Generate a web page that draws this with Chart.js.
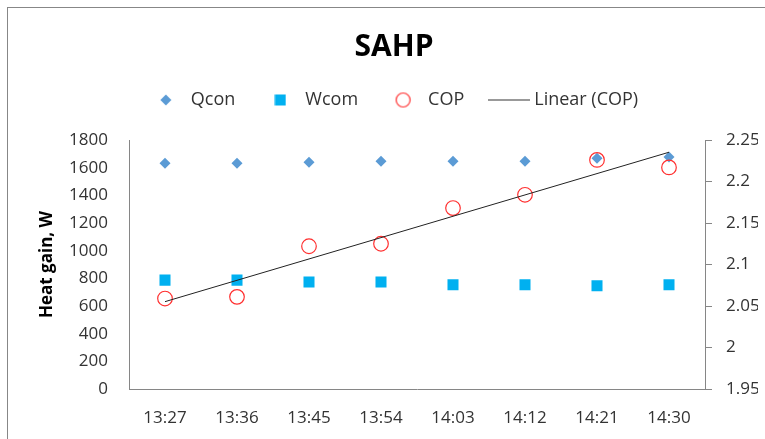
<!DOCTYPE html>
<html>
<head>
<meta charset="utf-8">
<title>SAHP</title>
<script src="https://cdn.jsdelivr.net/npm/chart.js@4.4.1/dist/chart.umd.min.js"></script>
<style>
  html, body { margin: 0; padding: 0; background: #fff; overflow: hidden; }
  #wrap { position: relative; width: 765px; height: 439px; }
  #frame { position: absolute; left: 7px; top: 7px; width: 800px; height: 500px; border: 1px solid #878787; pointer-events: none; }
</style>
</head>
<body>
<div id="wrap">
  <canvas id="chartSahp" width="765" height="439"></canvas>
  <div id="frame"></div>
</div>
<script>
// DATA
var times = ['13:27', '13:36', '13:45', '13:54', '14:03', '14:12', '14:21', '14:30'];
var qcon = [1632, 1632, 1639, 1647, 1647, 1647, 1668, 1678];
var wcom = [787, 787, 773, 773, 754, 754, 747, 754];
var cop = [2.059, 2.061, 2.122, 2.125, 2.168, 2.184, 2.226, 2.217];
var heatTicks = [0, 200, 400, 600, 800, 1000, 1200, 1400, 1600, 1800];
var copTicks = [1.95, 2, 2.05, 2.1, 2.15, 2.2, 2.25];

var FONT = "'Open Sans', 'Liberation Sans', sans-serif";
var AXIS_GRAY = '#868686';

// LINEAR TRENDLINE (least squares on point number, same as excel)
function linearFit(values) {
  var n = values.length, sx = 0, sy = 0, sxy = 0, sxx = 0;
  for (var i = 0; i < n; i++) {
    var x = i + 1;
    sx += x; sy += values[i]; sxy += x * values[i]; sxx += x * x;
  }
  var slope = (n * sxy - sx * sy) / (n * sxx - sx * sx);
  var icpt = (sy - slope * sx) / n;
  return values.map(function (v, i) { return icpt + slope * (i + 1); });
}
var copTrend = linearFit(cop);

// LEGEND MARKERS
function makeMarker(w, h, draw) {
  var c = document.createElement('canvas');
  c.width = w; c.height = h;
  draw(c.getContext('2d'));
  return c;
}
var diamondImg = makeMarker(12, 12, function (ctx) {
  ctx.fillStyle = '#5B9BD5';
  ctx.beginPath();
  ctx.moveTo(6, 0.5); ctx.lineTo(11.5, 6); ctx.lineTo(6, 11.5); ctx.lineTo(0.5, 6);
  ctx.closePath(); ctx.fill();
});
var squareImg = makeMarker(12, 12, function (ctx) {
  ctx.fillStyle = '#00B0F0';
  ctx.fillRect(0.5, 0.5, 11, 11);
});
var circleImg = makeMarker(17, 17, function (ctx) {
  ctx.strokeStyle = '#FF3030';
  ctx.lineWidth = 1.2;
  ctx.beginPath(); ctx.arc(8.5, 8.5, 7, 0, Math.PI * 2); ctx.stroke();
});
var lineImg = makeMarker(42, 3, function (ctx) {
  ctx.fillStyle = '#333';
  ctx.fillRect(0, 1, 42, 1);
});
var legendImgs = [diamondImg, squareImg, circleImg, lineImg];

// CHART
var sahpData = {
  labels: times,
  datasets: [
    {
      label: 'Qcon',
      data: qcon,
      yAxisID: 'y',
      showLine: false,
      pointStyle: 'rectRot',
      pointRadius: 5.5,
      backgroundColor: '#5B9BD5',
      borderColor: '#5B9BD5',
      borderWidth: 0,
      order: 4,
    },
    {
      label: 'Wcom',
      data: wcom,
      yAxisID: 'y',
      showLine: false,
      pointStyle: 'rect',
      pointRadius: 7.8,
      backgroundColor: '#00B0F0',
      borderColor: '#00B0F0',
      borderWidth: 0,
      order: 3,
    },
    {
      label: 'COP',
      data: cop,
      yAxisID: 'y1',
      showLine: false,
      pointStyle: 'circle',
      pointRadius: 7.3,
      backgroundColor: 'rgba(0,0,0,0)',
      borderColor: '#FF3030',
      borderWidth: 1.2,
      order: 2,
    },
    {
      label: 'Linear (COP)',
      data: copTrend,
      yAxisID: 'y1',
      pointRadius: 0,
      borderColor: '#222',
      borderWidth: 1,
      order: 1,
    },
  ],
};

var configSahp = {
  type: 'line',
  data: sahpData,
  options: {
    responsive: false,
    animation: false,
    devicePixelRatio: 1,
    layout: { padding: { top: 0, left: 30, right: 7, bottom: 0 } },
    plugins: {
      tooltip: { enabled: false },
      title: {
        display: true,
        text: 'SAHP',
        color: '#000',
        font: { family: FONT, size: 30, weight: 'bold', lineHeight: 1 },
        padding: { top: 32, bottom: 0 },
      },
      // empty spacer between legend and plot area
      subtitle: {
        display: true,
        text: '',
        weight: 100,
        font: { size: 10, lineHeight: '21px' },
        padding: 0,
      },
      legend: {
        position: 'top',
        labels: {
          usePointStyle: true,
          pointStyleWidth: 32,
          padding: 29,
          color: '#333',
          font: { family: FONT, size: 18 },
          generateLabels: function (chart) {
            return chart.data.datasets.map(function (ds, i) {
              return {
                text: ds.label,
                pointStyle: legendImgs[i],
                fillStyle: 'rgba(0,0,0,0)',
                strokeStyle: 'rgba(0,0,0,0)',
                lineWidth: 0,
                fontColor: '#333',
                hidden: false,
                datasetIndex: i,
              };
            });
          },
        },
      },
    },
    scales: {
      x: {
        type: 'category',
        offset: true,
        grid: { display: false, drawTicks: false },
        border: { display: true, color: AXIS_GRAY },
        ticks: { color: '#333', font: { family: FONT, size: 17 }, padding: 19, maxRotation: 0, autoSkip: false },
        afterFit: function (s) { s.height = 50; },
      },
      y: {
        position: 'left',
        min: 0,
        max: 1800,
        grid: { display: false, drawTicks: false },
        border: { display: true, color: AXIS_GRAY },
        afterBuildTicks: function (axis) {
          axis.ticks = heatTicks.map(function (v) { return { value: v }; });
        },
        ticks: {
          color: '#333',
          font: { family: FONT, size: 17 },
          padding: 21,
          callback: function (v) { return String(v); },
        },
        title: {
          display: true,
          text: 'Heat gain, W',
          color: '#000',
          font: { family: FONT, size: 17, weight: 'bold' },
          padding: { top: 7, bottom: 0 },
        },
        afterFit: function (s) { s.width = 99; },
      },
      y1: {
        position: 'right',
        min: 1.95,
        max: 2.25,
        grid: { display: true, drawOnChartArea: false, drawTicks: true, tickLength: 7, color: AXIS_GRAY },
        border: { display: true, color: AXIS_GRAY },
        afterBuildTicks: function (axis) {
          axis.ticks = copTicks.map(function (v) { return { value: v }; });
        },
        ticks: {
          color: '#333',
          font: { family: FONT, size: 17 },
          padding: 14,
          callback: function (v) { return String(v); },
        },
        afterFit: function (s) { s.width = 53; },
      },
    },
  },
};

var chartSahp = new Chart(document.getElementById('chartSahp'), configSahp);
</script>
</body>
</html>
